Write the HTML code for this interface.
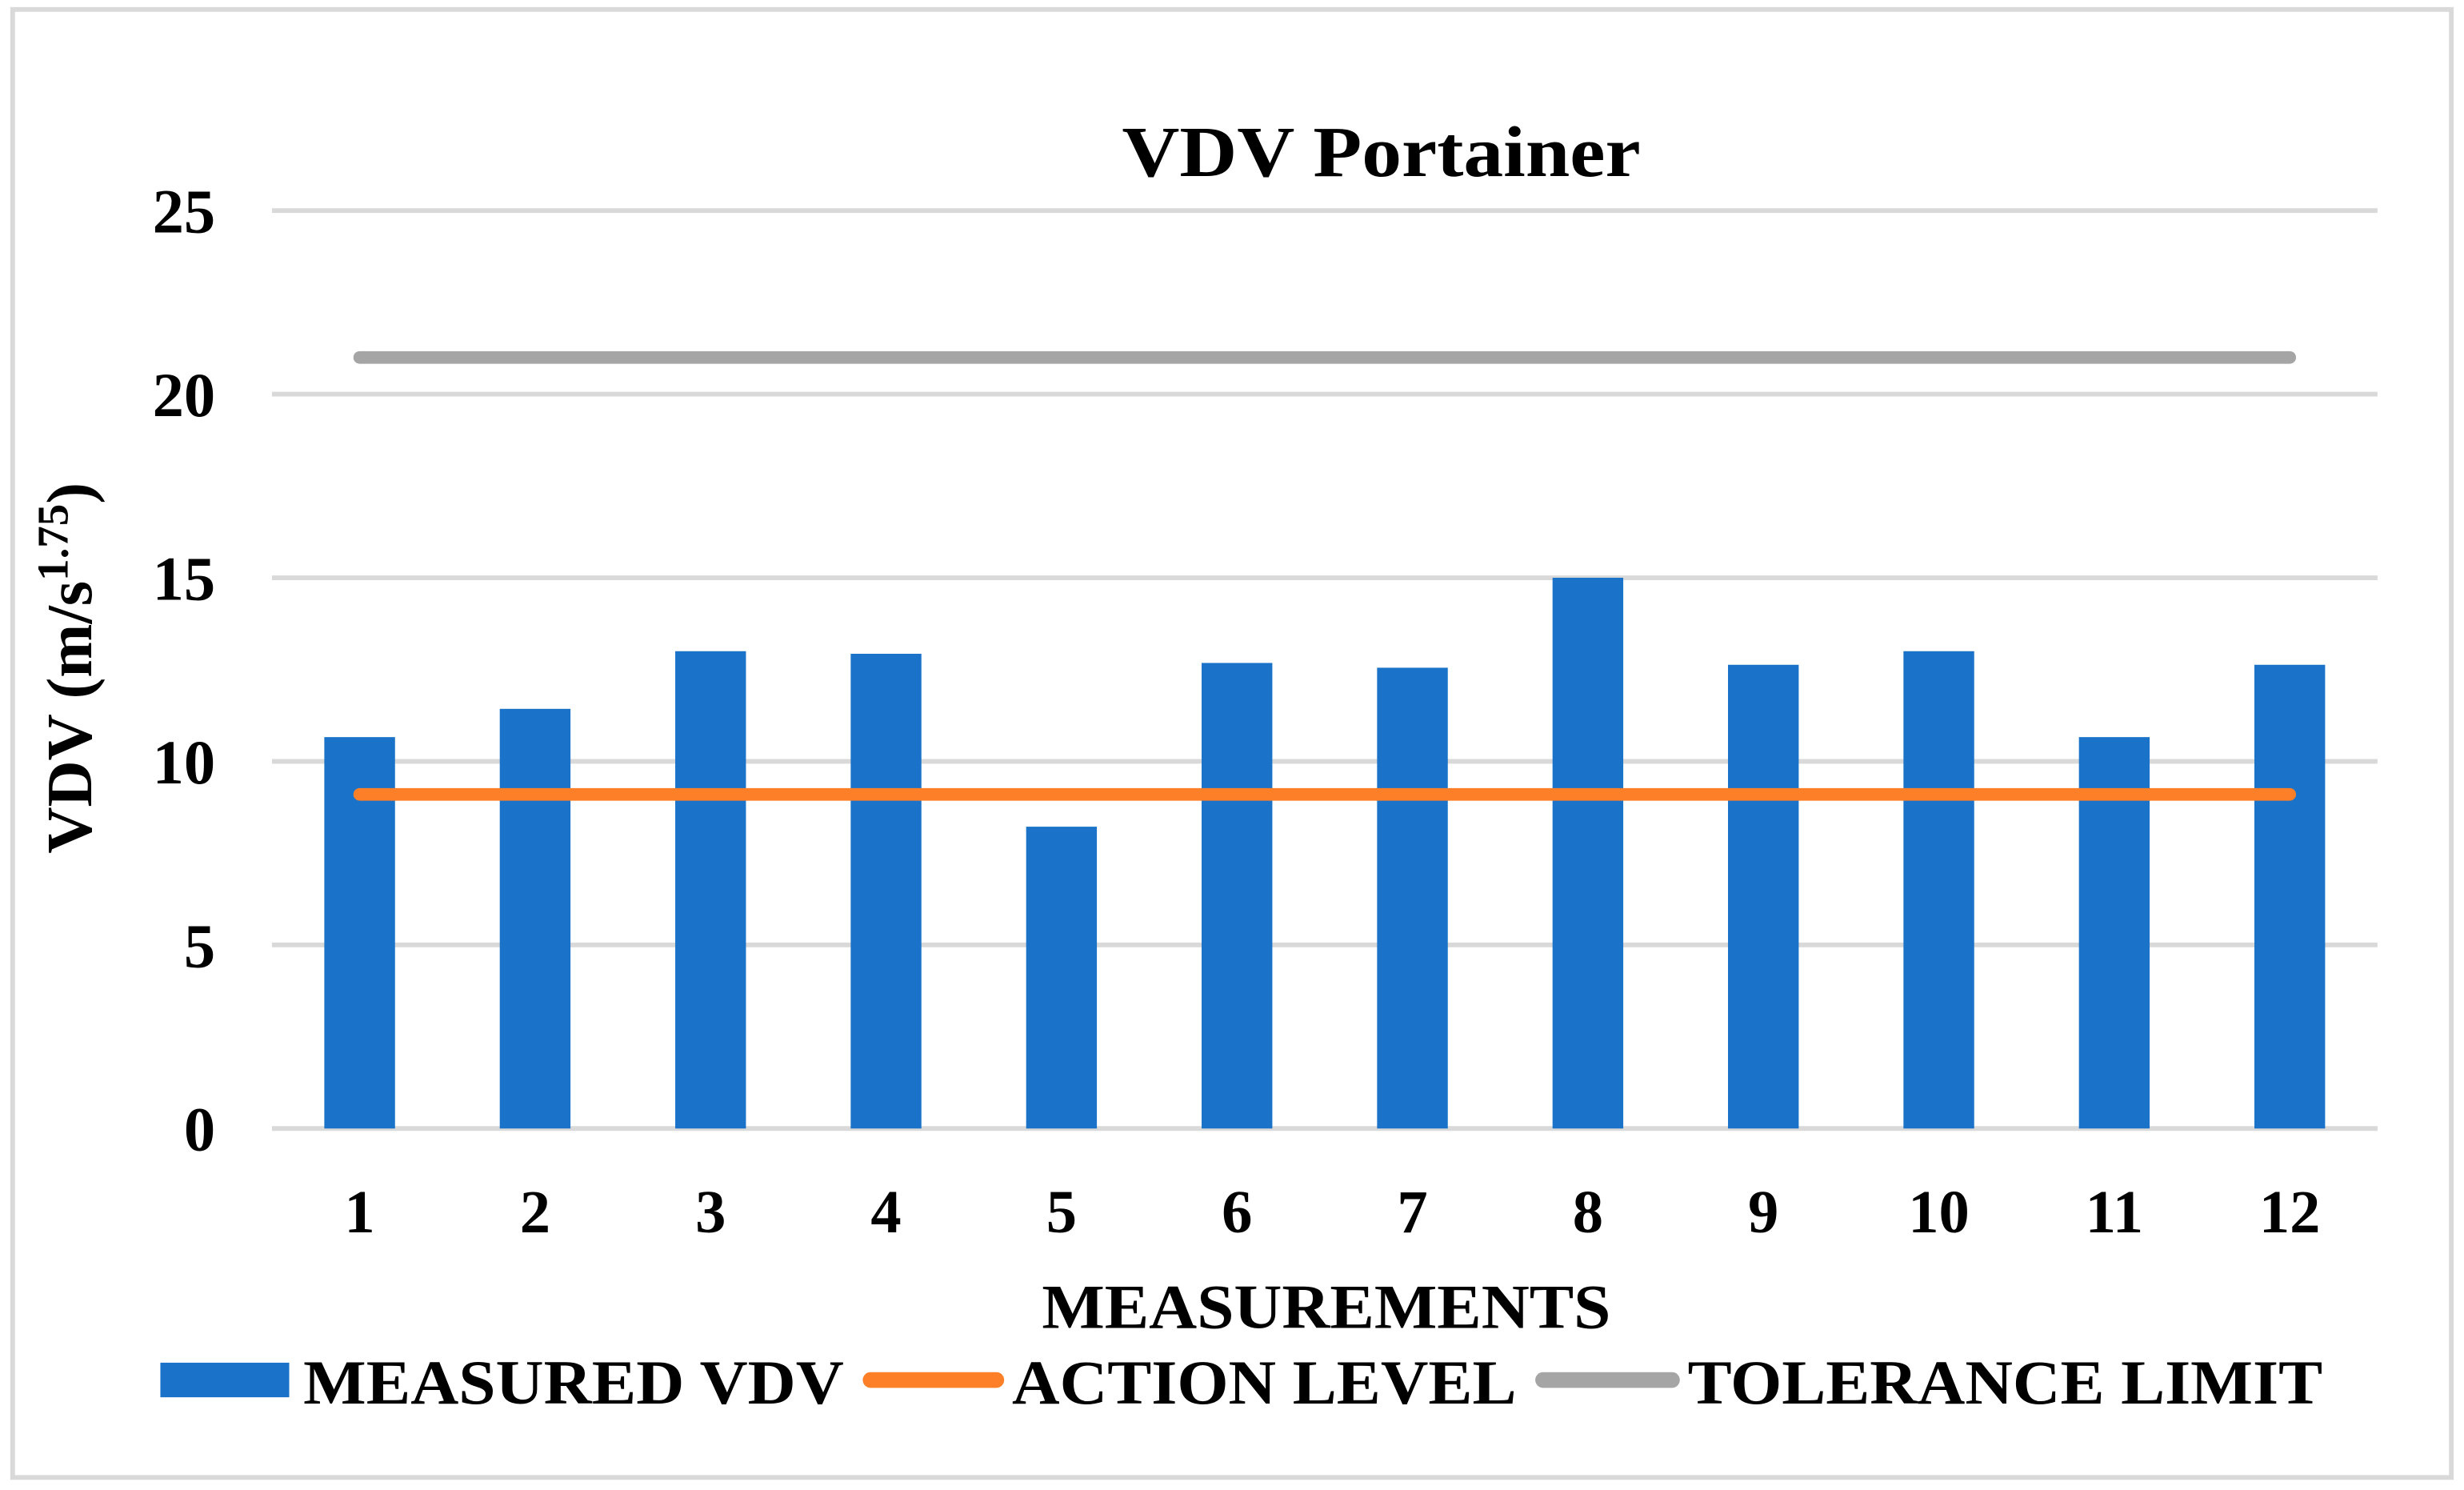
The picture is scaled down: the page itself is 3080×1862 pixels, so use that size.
<!DOCTYPE html>
<html><head><meta charset="utf-8"><style>
html,body{margin:0;padding:0;background:#fff;}
svg{display:block;}
text{font-family:"Liberation Serif",serif;font-weight:bold;fill:#000;}
</style></head><body>
<svg id="chart" width="3080" height="1862" viewBox="0 0 1568 948" xmlns="http://www.w3.org/2000/svg">
<rect x="8" y="6" width="1552" height="934" fill="#fff" stroke="#d9d9d9" stroke-width="3"/>
<text x="714" y="112" font-size="46" textLength="330" lengthAdjust="spacingAndGlyphs">VDV Portainer</text>
<g id="grid"></g><g id="bars"></g><g id="lines"></g><g id="labels"></g>
<text transform="translate(58,425) rotate(-90)" font-size="41" text-anchor="middle">VDV (m/s<tspan font-size="28" dy="-15">1.75</tspan><tspan dy="15">)</tspan></text>
<text x="663" y="845" font-size="40" textLength="362" lengthAdjust="spacingAndGlyphs">MEASUREMENTS</text>
<g>
<rect x="102" y="867" width="82" height="22" fill="#1a73c8"/>
<text x="193" y="893" font-size="40" textLength="344" lengthAdjust="spacingAndGlyphs">MEASURED VDV</text>
<line x1="554" y1="878" x2="634" y2="878" stroke="#fd7f28" stroke-width="10" stroke-linecap="round"/>
<text x="644" y="893" font-size="40" textLength="321" lengthAdjust="spacingAndGlyphs">ACTION LEVEL</text>
<line x1="982" y1="878" x2="1064" y2="878" stroke="#a5a5a5" stroke-width="10" stroke-linecap="round"/>
<text x="1074" y="893" font-size="40" textLength="404" lengthAdjust="spacingAndGlyphs">TOLERANCE LIMIT</text>
</g>
</svg>
<script>
const categories = ["1","2","3","4","5","6","7","8","9","10","11","12"];
const measuredVdv = [10.66,11.43,13.0,12.93,8.22,12.68,12.55,15.0,12.63,13.0,10.66,12.63];
const actionLevel = [9.1,9.1,9.1,9.1,9.1,9.1,9.1,9.1,9.1,9.1,9.1,9.1];
const toleranceLimit = [21,21,21,21,21,21,21,21,21,21,21,21];
const yTicks = [0,5,10,15,20,25];

const NS="http://www.w3.org/2000/svg";
const L=173,R=1513,Y0=718,Y25=134;
const y=v=>Y0-(v/25)*(Y0-Y25);
const bw=(R-L)/categories.length;
const x=i=>L+bw*(i+0.5);
function mk(t,a,p){const e=document.createElementNS(NS,t);for(const k in a)e.setAttribute(k,a[k]);p.appendChild(e);return e;}
const grid=document.getElementById('grid'),bars=document.getElementById('bars'),lines=document.getElementById('lines'),labels=document.getElementById('labels');
yTicks.forEach(v=>{
  const g=mk('line',{x1:L,x2:R,y1:y(v),y2:y(v),stroke:'#d9d9d9','stroke-width':3},grid);
  
  
  const t=mk('text',{x:137,y:y(v)+14,'font-size':40,'text-anchor':'end'},labels);
  t.textContent=v;
  
  
});
categories.forEach((c,i)=>{
  const b=mk('rect',{x:x(i)-22.5,y:y(measuredVdv[i]),width:45,height:Y0-y(measuredVdv[i]),fill:'#1a73c8'},bars);
  
  
  const t=mk('text',{x:x(i),y:784,'font-size':39,'text-anchor':'middle'},labels);
  t.textContent=c;
  
  
});
function series(vals,col,name){
  const p=mk('polyline',{points:vals.map((v,i)=>x(i)+','+y(v)).join(' '),fill:'none',stroke:col,'stroke-width':8,'stroke-linecap':'round'},lines);
  
  
}
series(actionLevel,'#fd7f28','action-level-line');
series(toleranceLimit,'#a5a5a5','tolerance-limit-line');
</script>
</body></html>
